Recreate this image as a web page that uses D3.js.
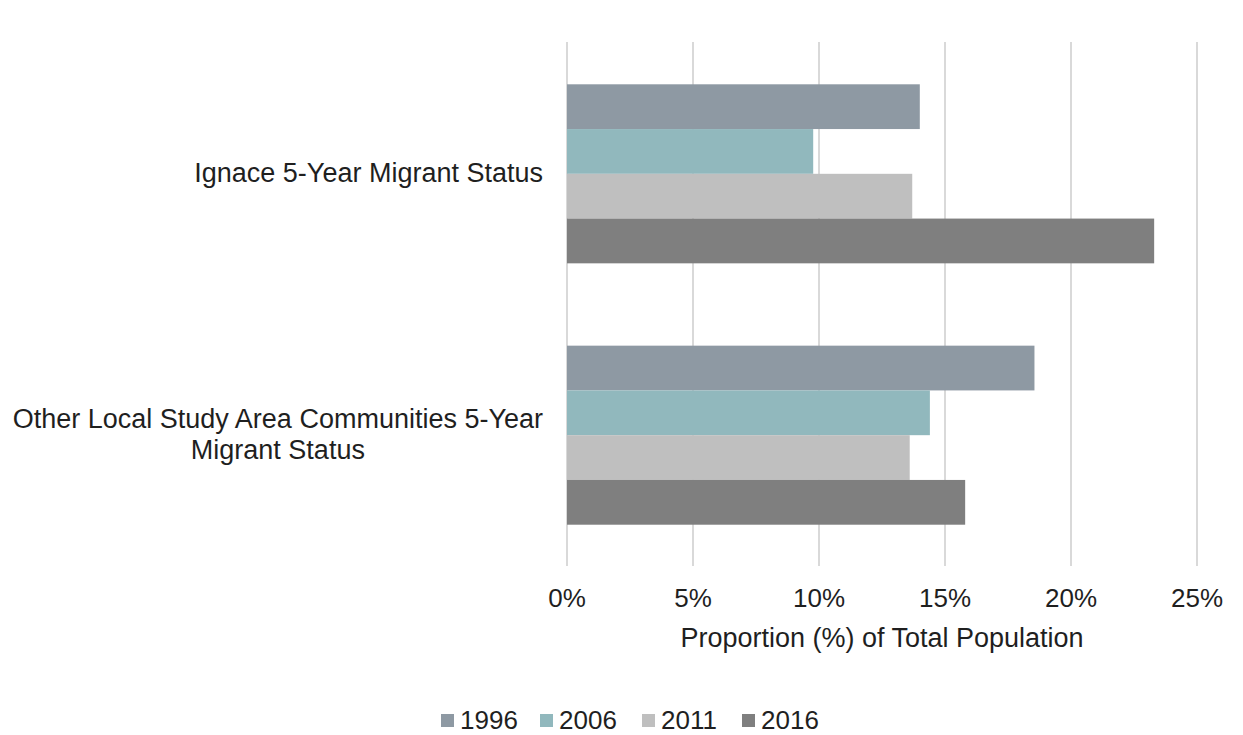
<!DOCTYPE html>
<html><head><meta charset="utf-8">
<script src="https://cdn.jsdelivr.net/npm/d3@7"></script>
<style>body{margin:0;background:#fff;} text{font-family:"Liberation Sans",Arial,sans-serif;fill:#1f1f1f;}</style>
</head><body>
<svg id="c" width="1243" height="735"></svg>
<script>
const categories = [["Ignace 5-Year Migrant Status"], ["Other Local Study Area Communities 5-Year", "Migrant Status"]];
const series = ["1996", "2006", "2011", "2016"];
const values1996 = [14.0, 18.55];
const values2006 = [9.77, 14.4];
const values2011 = [13.7, 13.6];
const values2016 = [23.3, 15.8];
const xTicks = [0, 5, 10, 15, 20, 25];
const colors = ["#8e99a3", "#91b8bd", "#bfbfbf", "#7f7f7f"];
const allValues = [values1996, values2006, values2011, values2016];

const svg = d3.select("#c");
const pLeft = 567, pRight = 1197, pTop = 43, pBottom = 566;
const x = d3.scaleLinear().domain([0, 25]).range([pLeft, pRight]);
const y = d3.scaleBand().domain(d3.range(categories.length)).range([pTop, pBottom]).paddingInner(0.315).paddingOuter(0.158);
const yi = d3.scaleBand().domain(series).range([0, y.bandwidth()]);

// gridlines
svg.append("g").selectAll("line").data(xTicks).join("line")
  .attr("x1", d => x(d)).attr("x2", d => x(d)).attr("y1", pTop - 1).attr("y2", pBottom)
  .attr("stroke", "#d9d9d9").attr("stroke-width", 2);

// bars
series.forEach((s, si) => {
  svg.append("g").selectAll("rect").data(allValues[si]).join("rect")
    .attr("x", x(0)).attr("y", (d, i) => y(i) + yi(s))
    .attr("width", d => x(d) - x(0)).attr("height", yi.bandwidth())
    .attr("fill", colors[si]);
});

// tick labels
svg.append("g").selectAll("text").data(xTicks).join("text")
  .attr("x", d => x(d)).attr("y", 607).attr("text-anchor", "middle")
  .attr("font-size", 26).text(d => d + "%");

svg.append("text").attr("x", 882).attr("y", 647).attr("text-anchor", "middle")
  .attr("font-size", 27).text("Proportion (%) of Total Population");

// category labels
categories.forEach((lines, i) => {
  const cy = y(i) + y.bandwidth() / 2;
  const lh = 31;
  const g = svg.append("g");
  const t = g.append("text").attr("font-size", 27).attr("text-anchor", "middle");
  lines.forEach((ln, li) => {
    t.append("tspan").attr("x", 0).attr("y", cy + 8 + (li - (lines.length - 1) / 2) * lh).text(ln);
  });
  const bb = t.node().getBBox();
  t.attr("transform", `translate(${543 - bb.width / 2},0)`);
});

// legend
const legX = [441, 540, 642, 742];
series.forEach((s, i) => {
  svg.append("rect").attr("x", legX[i]).attr("y", 714).attr("width", 13).attr("height", 13).attr("fill", colors[i]);
  svg.append("text").attr("x", legX[i] + 19).attr("y", 729).attr("font-size", 26).text(s);
});
</script>
</body></html>
